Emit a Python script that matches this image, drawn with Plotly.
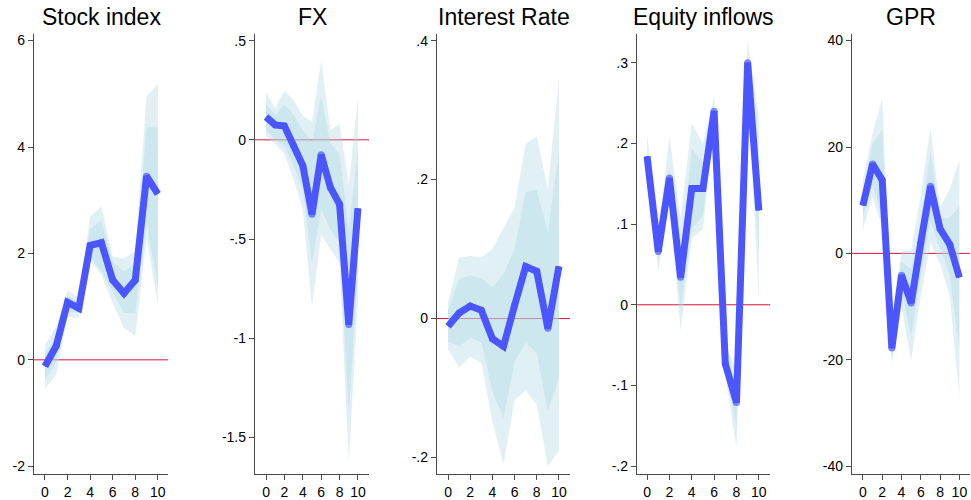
import plotly.graph_objects as go

# Impulse horizon (periods after the shock)
horizon = list(range(11))
x_ticks = [0, 2, 4, 6, 8, 10]

panel_titles = ["Stock index", "FX", "Interest Rate", "Equity inflows", "GPR"]

# Stock index: point estimate with 68% (inner) and 90% (outer) bands
stock_irf = [-0.12, 0.26, 1.08, 0.97, 2.15, 2.20, 1.50, 1.25, 1.50, 3.45, 3.12]
stock_in_lo = [-0.37, -0.05, 0.91, 0.88, 1.93, 1.66, 1.29, 0.88, 0.88, 2.60, 1.35]
stock_in_hi = [0.12, 0.42, 1.22, 1.07, 2.47, 2.62, 1.85, 1.66, 1.80, 4.37, 4.37]
stock_out_lo = [-0.55, -0.27, 0.82, 0.78, 1.87, 1.60, 1.07, 0.60, 0.45, 2.30, 1.03]
stock_out_hi = [0.28, 0.62, 1.31, 1.16, 2.69, 2.88, 1.94, 1.90, 2.05, 4.95, 5.18]
stock_ticks = [-2, 0, 2, 4, 6]
stock_ticktext = ["-2", "0", "2", "4", "6"]

# FX
fx_irf = [0.115, 0.075, 0.07, -0.03, -0.13, -0.375, -0.075, -0.24, -0.325, -0.93, -0.345]
fx_in_lo = [0.05, 0.0, -0.03, -0.13, -0.25, -0.62, -0.35, -0.45, -0.52, -1.38, -0.65]
fx_in_hi = [0.18, 0.125, 0.18, 0.125, 0.05, -0.01, 0.22, -0.02, -0.07, -0.45, -0.05]
fx_out_lo = [0.02, -0.02, -0.07, -0.20, -0.35, -0.84, -0.48, -0.55, -0.62, -1.63, -0.80]
fx_out_hi = [0.24, 0.16, 0.25, 0.20, 0.12, 0.09, 0.40, 0.05, 0.08, -0.225, 0.22]
fx_ticks = [0.5, 0, -0.5, -1, -1.5]
fx_ticktext = [".5", "0", "-.5", "-1", "-1.5"]

# Interest rate
ir_irf = [-0.011, 0.008, 0.018, 0.012, -0.029, -0.040, 0.019, 0.075, 0.068, -0.014, 0.075]
ir_in_lo = [-0.033, -0.040, -0.028, -0.034, -0.105, -0.143, -0.062, -0.034, -0.050, -0.133, -0.086]
ir_in_hi = [0.012, 0.057, 0.062, 0.058, 0.045, 0.064, 0.100, 0.182, 0.185, 0.124, 0.240]
ir_out_lo = [-0.045, -0.070, -0.055, -0.064, -0.148, -0.210, -0.117, -0.104, -0.124, -0.212, -0.190]
ir_out_hi = [0.024, 0.088, 0.090, 0.088, 0.100, 0.129, 0.160, 0.252, 0.262, 0.186, 0.345]
ir_ticks = [0.4, 0.2, 0, -0.2]
ir_ticktext = [".4", ".2", "0", "-.2"]

# Equity inflows
eq_irf = [0.184, 0.066, 0.157, 0.034, 0.144, 0.144, 0.240, -0.073, -0.121, 0.300, 0.117]
eq_in_lo = [0.178, 0.055, 0.140, -0.005, 0.094, 0.111, 0.230, -0.080, -0.150, 0.290, 0.060]
eq_in_hi = [0.190, 0.070, 0.170, 0.050, 0.193, 0.176, 0.245, -0.060, -0.100, 0.310, 0.150]
eq_out_lo = [0.170, 0.041, 0.130, -0.032, 0.082, 0.094, 0.220, -0.085, -0.178, 0.280, 0.005]
eq_out_hi = [0.213, 0.085, 0.209, 0.107, 0.225, 0.200, 0.258, -0.050, -0.080, 0.328, 0.232]
eq_ticks = [0.3, 0.2, 0.1, 0, -0.1, -0.2]
eq_ticktext = [".3", ".2", ".1", "0", "-.1", "-.2"]

# Geopolitical risk
gpr_irf = [9.0, 16.8, 13.8, -17.8, -4.1, -9.3, 2.0, 12.6, 4.6, 1.7, -4.5]
gpr_in_lo = [7.0, 13.0, 7.0, -19.5, -7.0, -15.5, -4.0, 6.0, 1.0, -4.0, -18.0]
gpr_in_hi = [11.0, 20.7, 23.2, -15.5, -1.5, -3.0, 6.0, 19.1, 6.5, 6.7, 8.8]
gpr_out_lo = [4.5, 10.5, 5.0, -20.7, -10.0, -20.1, -8.0, 2.0, -2.0, -8.0, -27.0]
gpr_out_hi = [13.8, 22.6, 29.1, -13.0, 0.5, 0.5, 11.0, 23.5, 8.8, 12.0, 17.6]
gpr_ticks = [40, 20, 0, -20, -40]
gpr_ticktext = ["40", "20", "0", "-20", "-40"]

panels = [
    (stock_irf, stock_in_lo, stock_in_hi, stock_out_lo, stock_out_hi, stock_ticks, stock_ticktext),
    (fx_irf, fx_in_lo, fx_in_hi, fx_out_lo, fx_out_hi, fx_ticks, fx_ticktext),
    (ir_irf, ir_in_lo, ir_in_hi, ir_out_lo, ir_out_hi, ir_ticks, ir_ticktext),
    (eq_irf, eq_in_lo, eq_in_hi, eq_out_lo, eq_out_hi, eq_ticks, eq_ticktext),
    (gpr_irf, gpr_in_lo, gpr_in_hi, gpr_out_lo, gpr_out_hi, gpr_ticks, gpr_ticktext),
]

# Layout geometry (paper fractions of a 971 x 500 page)
W, H = 971, 500
x_domains_px = [(34, 168), (255, 369), (437, 570), (637, 770), (852, 970)]
y_domain = [1 - 478 / H, 1 - 33 / H]
x_ranges = [[-0.97, 10.9], [-1.2, 11.2], [-1.0, 11.0], [-0.9, 11.0], [-1.13, 11.1]]
y_ranges = [[-2.15, 6.13], [-1.685, 0.535], [-0.224, 0.41], [-0.21, 0.336], [-41.5, 41.3]]

band_fill = "rgba(173,216,230,0.38)"
line_color = "rgb(76,86,255)"
axis_color = "#4a4a4a"
font_family = "Liberation Sans, Arial, sans-serif"
line_w = 7

# round joins at interior points, square ends at the first and last horizon
joint_sizes = [0] + [line_w] * (len(horizon) - 2) + [0]

fig = go.Figure()
layout = dict(
    width=W, height=H,
    margin=dict(l=0, r=0, t=0, b=0),
    paper_bgcolor="white", plot_bgcolor="white",
    showlegend=False,
    font=dict(family=font_family, color="black", size=14),
)
annotations = []
shapes = []

for i, (irf, in_lo, in_hi, out_lo, out_hi, yt, ytt) in enumerate(panels):
    n = i + 1
    xa = "x" if n == 1 else f"x{n}"
    ya = "y" if n == 1 else f"y{n}"

    # outer band
    fig.add_trace(go.Scatter(x=horizon, y=out_lo, xaxis=xa, yaxis=ya, mode="lines",
                             line=dict(width=0), hoverinfo="skip"))
    fig.add_trace(go.Scatter(x=horizon, y=out_hi, xaxis=xa, yaxis=ya, mode="lines",
                             line=dict(width=0), fill="tonexty", fillcolor=band_fill,
                             hoverinfo="skip"))
    # inner band
    fig.add_trace(go.Scatter(x=horizon, y=in_lo, xaxis=xa, yaxis=ya, mode="lines",
                             line=dict(width=0), hoverinfo="skip"))
    fig.add_trace(go.Scatter(x=horizon, y=in_hi, xaxis=xa, yaxis=ya, mode="lines",
                             line=dict(width=0), fill="tonexty", fillcolor=band_fill,
                             hoverinfo="skip"))
    # impulse response
    fig.add_trace(go.Scatter(x=horizon, y=irf, xaxis=xa, yaxis=ya, mode="lines",
                             line=dict(color="rgb(0,0,255)", width=3)))
    fig.add_trace(go.Scatter(x=horizon, y=irf, xaxis=xa, yaxis=ya, mode="lines+markers",
                             line=dict(color=line_color, width=line_w),
                             marker=dict(color=line_color, size=joint_sizes,
                                         line=dict(width=0))))

    x0, x1 = x_domains_px[i]
    xdom = [x0 / W, x1 / W]
    axis_common = dict(
        showgrid=False, zeroline=False, showline=True, linecolor=axis_color, linewidth=1.3,
        ticks="outside", ticklen=5, tickwidth=1.2, tickcolor=axis_color,
        tickfont=dict(family=font_family, size=14, color="black"),
    )
    layout["xaxis" if n == 1 else f"xaxis{n}"] = dict(
        domain=xdom, anchor=ya, range=x_ranges[i],
        tickmode="array", tickvals=x_ticks, ticktext=[str(v) for v in x_ticks],
        **axis_common,
    )
    layout["yaxis" if n == 1 else f"yaxis{n}"] = dict(
        domain=y_domain, anchor=xa, range=y_ranges[i],
        tickmode="array", tickvals=yt, ticktext=ytt,
        **axis_common,
    )
    # zero reference line
    shapes.append(dict(type="line", xref=f"{xa} domain", yref=ya, x0=0, x1=1, y0=0, y1=0,
                       line=dict(color="crimson", width=1), layer="below"))
    annotations.append(dict(text=panel_titles[i], xref="paper", yref="paper",
                            x=(xdom[0] + xdom[1]) / 2, y=1 - 16 / H,
                            xanchor="center", yanchor="middle", showarrow=False,
                            font=dict(family=font_family, size=23, color="black")))

layout["annotations"] = annotations
layout["shapes"] = shapes
fig.update_layout(**layout)
fig.write_html("out.html")
